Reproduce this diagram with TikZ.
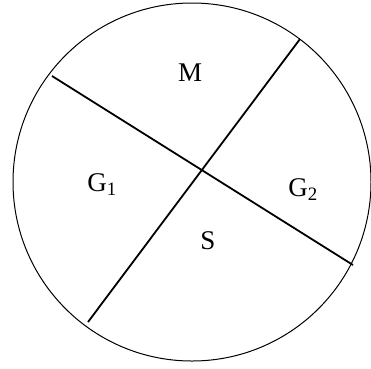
\documentclass[tikz,border=0pt]{standalone}
\usepackage{fontspec}
\setmainfont{Liberation Serif}
\begin{document}
\begin{tikzpicture}[x=1pt,y=-1pt,
    oblast/.style={font=\fontsize{27}{27}\selectfont, inner sep=0pt}]
        \useasboundingbox (0,0) rectangle (371,368);

        % kruh
        \draw[line width=1pt] (192,182) coordinate (S0) circle[radius=179pt];

        % dvě dělicí úsečky
        \draw[line width=1.8pt] (52,76) coordinate (A) -- (353,265) coordinate (B);
        \draw[line width=1.8pt] (300,39) coordinate (C) -- (88,322) coordinate (D);

        % oblasti
        \node[oblast] (m) at (190,73) {M};
        \node[oblast] (g1) at (102,185) {G\textsubscript{1}};
        \node[oblast] (g2) at (303,190) {G\textsubscript{2}};
        \node[oblast] (s) at (208,241) {S};

    \end{tikzpicture}
\end{document}
